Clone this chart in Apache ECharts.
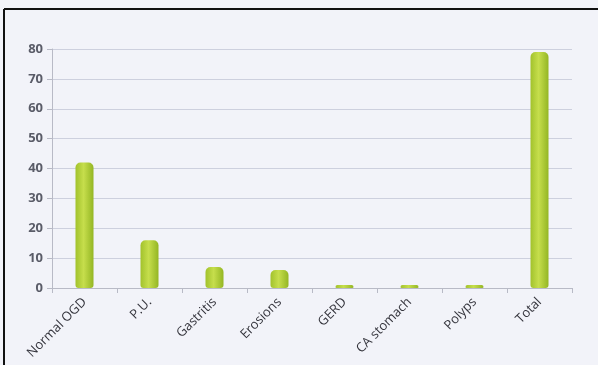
<!DOCTYPE html>
<html>
<head>
<meta charset="utf-8">
<script src="https://cdn.jsdelivr.net/npm/echarts@6/dist/echarts.min.js"></script>
<style>
  html, body { margin: 0; padding: 0; background: #f2f3f9; }
  #chart { width: 598px; height: 365px; }
</style>
</head>
<body>
<div id="chart"></div>
<script>
var categories = ['Normal OGD', 'P.U.', 'Gastritis', 'Erosions', 'GERD', 'CA stomach', 'Polyps', 'Total'];
var counts = [42, 16, 7, 6, 1, 1, 1, 79];
var yTicks = [0, 10, 20, 30, 40, 50, 60, 70, 80];

var chart = echarts.init(document.getElementById('chart'));

var option = {
  backgroundColor: '#f2f3f9',
  animation: false,
  graphic: [
    { type: 'line', shape: { x1: 4, y1: 9, x2: 598, y2: 9 }, style: { stroke: '#111', lineWidth: 2 } },
    { type: 'line', shape: { x1: 4, y1: 9, x2: 4, y2: 365 }, style: { stroke: '#111', lineWidth: 2 } }
  ],
  grid: { left: 52, right: 26, top: 49, bottom: 77 },
  xAxis: {
    type: 'category',
    data: categories,
    axisLine: { lineStyle: { color: '#b8bac6' } },
    axisTick: { show: true, lineStyle: { color: '#b8bac6' } },
    axisLabel: {
      rotate: 45,
      interval: 0,
      margin: 12,
      color: '#34343c',
      fontFamily: 'Open Sans',
      fontSize: 13
    }
  },
  yAxis: {
    type: 'value',
    min: yTicks[0],
    max: yTicks[yTicks.length - 1],
    interval: 10,
    axisLine: { show: true, lineStyle: { color: '#b8bac6' } },
    axisTick: { show: true, lineStyle: { color: '#b8bac6' } },
    axisLabel: {
      color: '#5a5c68',
      fontFamily: 'Open Sans',
      fontSize: 13,
      fontWeight: 'bold',
      margin: 9
    },
    splitLine: { lineStyle: { color: '#cdd0de' } }
  },
  series: [{
    type: 'bar',
    data: counts,
    barWidth: 18,
    itemStyle: {
      borderRadius: [5, 5, 3, 3],
      color: new echarts.graphic.LinearGradient(0, 0, 1, 0, [
        { offset: 0, color: '#a2c22c' },
        { offset: 0.45, color: '#c6de4c' },
        { offset: 1, color: '#94b624' }
      ])
    }
  }]
};

chart.setOption(option);
</script>
</body>
</html>
